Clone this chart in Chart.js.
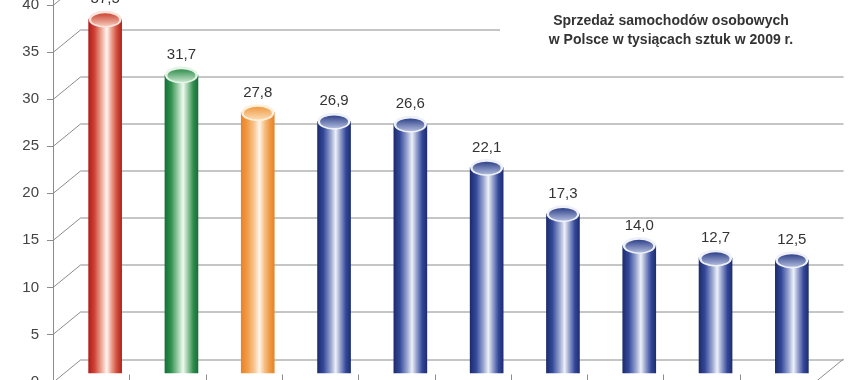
<!DOCTYPE html>
<html><head><meta charset="utf-8">
<script src="https://cdn.jsdelivr.net/npm/chart.js@4"></script>
<style>
html,body{margin:0;padding:0;background:#fff;overflow:hidden;}
#wrap{position:relative;width:848px;height:392px;}
</style></head><body>
<div id="wrap"><canvas id="c" width="848" height="392"></canvas></div>
<script>
// ---- data ----
const categories = ['Marka 1','Marka 2','Marka 3','Marka 4','Marka 5','Marka 6','Marka 7','Marka 8','Marka 9','Marka 10'];
const values = [37.5, 31.7, 27.8, 26.9, 26.6, 22.1, 17.3, 14.0, 12.7, 12.5];
const yTicks = [0, 5, 10, 15, 20, 25, 30, 35, 40];
const titleLines = ['Sprzedaż samochodów osobowych', 'w Polsce w tysiącach sztuk w 2009 r.'];

// ---- styles ----
const palettes = {
  red:    {stops:['#b01d1b','#cf4436','#efae9c','#fff5f1','#eb9c88','#d04a3a','#b3241c'], rim:'#fbe3dc', inTop:'#c8402f', inBot:'#f6c3b2'},
  green:  {stops:['#14703a','#2f8f4c','#9fd0aa','#f1faf2','#93c79f','#2f8d4b','#17703a'], rim:'#e6f4e8', inTop:'#2a8a48', inBot:'#bfe2c6'},
  orange: {stops:['#e88426','#f19a45','#f8c894','#fff6ea','#f7c089','#ef9a45','#e5842a'], rim:'#fff0dc', inTop:'#ef983f', inBot:'#fbd8ae'},
  blue:   {stops:['#1c2c6c','#34489a','#98a5d0','#eef1f8','#8e9bca','#33479a','#1e2e70'], rim:'#eef1f8', inTop:'#2a3d86', inBot:'#aab5da'}
};
const barStyle = ['red','green','orange','blue','blue','blue','blue','blue','blue','blue'];
const stopPos = [0, 0.18, 0.4, 0.55, 0.7, 0.86, 1];
const BAR_W = 33, DEPTH_X = 14, BACK_DX = 27.5, BACK_DY = -22.5;

function barFill(c) {
  const chart = c.chart, xs = chart.scales.x;
  const p = palettes[barStyle[c.dataIndex]];
  if (!xs || !chart.chartArea) return p.stops[1];
  const cx = xs.getPixelForValue(c.dataIndex);
  const g = chart.ctx.createLinearGradient(cx - BAR_W/2, 0, cx + BAR_W/2, 0);
  p.stops.forEach((col, i) => g.addColorStop(stopPos[i], col));
  return g;
}

const decor = {
  id: 'decor',
  beforeDatasetsDraw(chart) {
    const {ctx, chartArea: a} = chart;
    const ys = chart.scales.y, xs = chart.scales.x;
    const fx = a.left - DEPTH_X, fr = a.right - DEPTH_X;
    const y0 = ys.getPixelForValue(0);
    ctx.save();
    ctx.strokeStyle = '#8c8c8c';
    ctx.lineWidth = 1;
    // front axis
    ctx.beginPath(); ctx.moveTo(fx + 0.5, 0); ctx.lineTo(fx + 0.5, y0); ctx.stroke();
    yTicks.forEach(v => {
      const yf = Math.round(ys.getPixelForValue(v)) + 0.5;
      ctx.beginPath();
      ctx.moveTo(fx - 6, yf); ctx.lineTo(fx, yf);
      ctx.lineTo(fx + BACK_DX, yf + BACK_DY);
      ctx.lineTo(fr + BACK_DX, yf + BACK_DY);
      ctx.stroke();
    });
    // floor right edge and front edge
    ctx.beginPath();
    ctx.moveTo(fr + BACK_DX, y0 + BACK_DY); ctx.lineTo(fr, y0); ctx.lineTo(fx, y0);
    ctx.stroke();
    // front category ticks
    for (let i = 1; i < categories.length; i++) {
      const x = Math.round((xs.getPixelForValue(i - 1) + xs.getPixelForValue(i)) / 2 - DEPTH_X) + 0.5;
      ctx.beginPath(); ctx.moveTo(x, y0 - 7); ctx.lineTo(x, y0); ctx.stroke();
    }
    // title box
    ctx.fillStyle = '#ffffff';
    ctx.fillRect(500, 0, 348, 58);
    ctx.fillStyle = '#333333';
    ctx.font = 'bold 14px "Liberation Sans", Arial, sans-serif';
    ctx.textAlign = 'center';
    ctx.textBaseline = 'alphabetic';
    ctx.fillText(titleLines[0], 671, 25);
    ctx.fillText(titleLines[1], 671, 44);
    ctx.restore();
  },
  afterDatasetsDraw(chart) {
    const ctx = chart.ctx;
    const meta = chart.getDatasetMeta(0);
    ctx.save();
    meta.data.forEach((el, i) => {
      const p = palettes[barStyle[i]];
      const x = el.x, y = el.y;
      ctx.beginPath();
      ctx.ellipse(x, y, BAR_W/2, 8.5, 0, 0, Math.PI * 2);
      ctx.fillStyle = p.rim; ctx.fill();
      const g = ctx.createLinearGradient(0, y - 6.5, 0, y + 6.5);
      g.addColorStop(0, p.inTop); g.addColorStop(1, p.inBot);
      ctx.beginPath();
      ctx.ellipse(x, y + 0.5, BAR_W/2 - 2.5, 6.3, 0, 0, Math.PI * 2);
      ctx.fillStyle = g; ctx.fill();
      ctx.fillStyle = '#333333';
      ctx.font = '15px "Liberation Sans", Arial, sans-serif';
      ctx.textAlign = 'center';
      ctx.textBaseline = 'alphabetic';
      ctx.fillText(values[i].toFixed(1).replace('.', ','), x, y - 16);
    });
    ctx.restore();
  }
};

new Chart(document.getElementById('c'), {
  type: 'bar',
  data: {
    labels: categories,
    datasets: [{
      data: values,
      yAxisID: 'yb',
      base: 0.78,
      barThickness: BAR_W,
      backgroundColor: barFill,
      borderWidth: 0
    }]
  },
  options: {
    responsive: false,
    devicePixelRatio: 1,
    animation: false,
    layout: {padding: {left: 0, right: 18, top: 5, bottom: 10.5}},
    plugins: {legend: {display: false}, tooltip: {enabled: false}, title: {display: false}},
    scales: {
      x: {type: 'category', display: false, offset: true},
      y: {
        position: 'left', min: 0, max: 40,
        afterBuildTicks: s => { s.ticks = yTicks.map(v => ({value: v})); },
        afterFit: s => { s.width = 67; s.paddingTop = 0; s.paddingBottom = 0; },
        grid: {drawOnChartArea: false, drawTicks: false},
        border: {display: false},
        ticks: {padding: 28, color: '#444444', font: {family: '"Liberation Sans", Arial, sans-serif', size: 15}}
      },
      yb: {position: 'left', display: false, min: -0.104, max: 38.97}
    }
  },
  plugins: [decor]
});
</script>
</body></html>
